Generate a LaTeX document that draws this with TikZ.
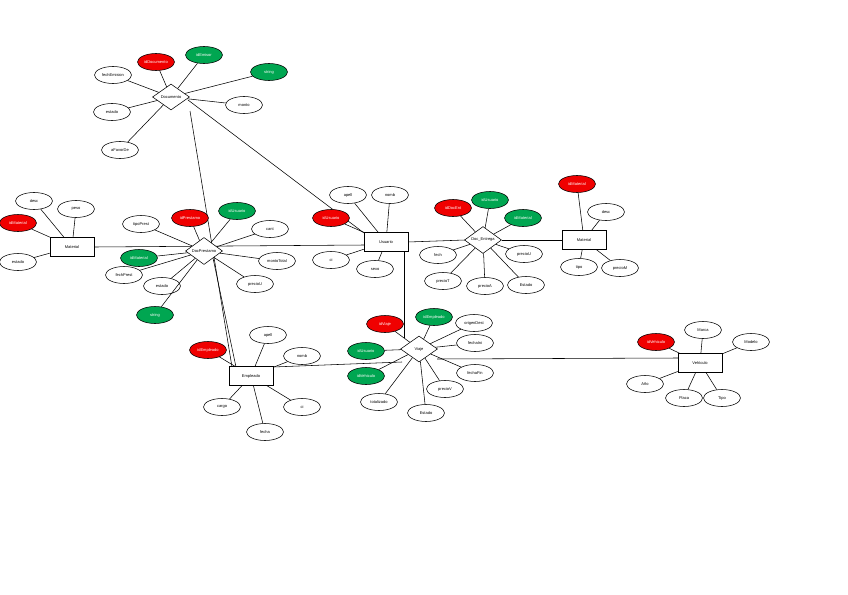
\documentclass[tikz,border=0pt]{standalone}
\usepackage{fontspec}
\setmainfont{Liberation Sans}
\usetikzlibrary{shapes.geometric}
\definecolor{keyred}{RGB}{240,0,0}
\definecolor{fkgreen}{RGB}{0,166,81}
\begin{document}
\begin{tikzpicture}[x=1pt,y=-1pt,
  every node/.style={font=\fontsize{4}{5}\selectfont, inner sep=0pt},
  attr/.style={ellipse, draw, fill=white, minimum width=37pt, minimum height=17pt, line width=0.55pt},
  pk/.style={attr, fill=keyred, text=white},
  fk/.style={attr, fill=fkgreen, text=white},
  entity/.style={rectangle, draw, fill=white, minimum width=44pt, minimum height=19pt, line width=0.55pt},
  rel/.style={diamond, draw, fill=white, minimum width=37pt, minimum height=26pt, line width=0.55pt},
  conn/.style={draw, line width=0.55pt}]
\useasboundingbox (0,0) rectangle (848,594);
\fill[white] (0,0) rectangle (848,594);

% relationship lines first (drawn beneath nodes)
\coordinate (docA) at (188,100);
\coordinate (docB) at (190,111);
\coordinate (usrA) at (364,233);
\coordinate (empA) at (232,367);
\coordinate (empB) at (236,367);
\coordinate (dpB) at (213,258);
\coordinate (matE) at (95,247);
\coordinate (usrW) at (364,245);
\coordinate (usrS) at (404,252);
\coordinate (viaN) at (404,338);
\coordinate (empE) at (273,367);
\coordinate (viaW) at (402,362);
\coordinate (viaE) at (437,359);
\coordinate (vehW) at (678,358);
\coordinate (usrE) at (408,242);
\coordinate (deW) at (465,240);
\coordinate (deE) at (502,240);
\coordinate (m2W) at (562,240);
\draw[conn] (docA) -- (usrA);
\draw[conn] (docB) -- (empA);
\draw[conn] (dpB) -- (empB);
\draw[conn] (matE) -- (usrW);
\draw[conn] (usrS) -- (viaN);
\draw[conn] (empE) -- (viaW);
\draw[conn] (viaE) -- (vehW);
\draw[conn] (usrE) -- (deW);
\draw[conn] (deE) -- (m2W);

% entities and relationships
\node[rel] (doc) at (171,97) {Documento};
\node[rel] (dp) at (204,251) {DocPrestamo};
\node[entity] (mat) at (72,247) {Material};
\node[entity] (usr) at (386,242) {Usuario};
\node[rel] (de) at (483,240) {Doc\_Entrega};
\node[entity] (m2) at (584,240) {Material};
\node[entity] (emp) at (251,376) {Empleado};
\node[rel] (via) at (419,349) {Viaje};
\node[entity] (veh) at (700,363) {Vehículo};

% Documento attributes
\node[pk] (d1) at (156,62) {idDocumento};
\node[fk] (d2) at (204,55) {idEmisor};
\node[fk] (d3) at (269,72) {string};
\node[attr] (d4) at (113,75) {fechEmision};
\node[attr] (d5) at (112,112) {estado};
\node[attr] (d6) at (244,105) {monto};
\node[attr] (d7) at (120,150) {aFavorDe};
\foreach \a in {d1,d2,d3,d4,d5,d6,d7} \draw[conn] (\a) -- (doc);

% Material attributes
\node[attr] (m1) at (34,201) {desc};
\node[attr] (mm2) at (76,209) {peso};
\node[pk] (m3) at (18,223) {idMaterial};
\node[attr] (m4) at (18,262) {estado};
\foreach \a in {m1,mm2,m3,m4} \draw[conn] (\a) -- (mat);

% DocPrestamo attributes
\node[attr] (p1) at (141,224) {tipoPrest};
\node[pk] (p2) at (190,218) {idPrestamo};
\node[fk] (p3) at (237,211) {idUsuario};
\node[attr] (p4) at (270,229) {cant};
\node[fk] (p5) at (139,258) {idMaterial};
\node[attr] (p6) at (124,275) {fechPrest};
\node[attr] (p7) at (162,286) {estado};
\node[fk] (p8) at (155,315) {string};
\node[attr] (p9) at (277,261) {montoTotal};
\node[attr] (p10) at (255,284) {precioU};
\foreach \a in {p1,p2,p3,p4,p5,p6,p7,p8,p9,p10} \draw[conn] (\a) -- (dp);

% Usuario attributes
\node[attr] (u1) at (348,195) {apell};
\node[attr] (u2) at (390,195) {nomb};
\node[pk] (u3) at (331,218) {idUsuario};
\node[attr] (u4) at (331,260) {ci};
\node[attr] (u5) at (375,269) {sexo};
\foreach \a in {u1,u2,u3,u4,u5} \draw[conn] (\a) -- (usr);

% Doc_Entrega attributes
\node[pk] (e1) at (453,208) {idDocEnt};
\node[fk] (e2) at (490,200) {idUsuario};
\node[fk] (e3) at (523,218) {idMaterial};
\node[attr] (e4) at (438,255) {fech};
\node[attr] (e5) at (524,254) {precioU};
\node[attr] (e6) at (443,281) {precioT};
\node[attr] (e7) at (485,286) {precioA};
\node[attr] (e8) at (526,285) {Estado};
\foreach \a in {e1,e2,e3,e4,e5,e6,e7,e8} \draw[conn] (\a) -- (de);

% Material (right) attributes
\node[pk] (r1) at (577,184) {idMaterial};
\node[attr] (r2) at (606,212) {desc};
\node[attr] (r3) at (579,267) {tipo};
\node[attr] (r4) at (620,268) {precioM};
\foreach \a in {r1,r2,r3,r4} \draw[conn] (\a) -- (m2);

% Empleado attributes
\node[attr] (w1) at (268,335) {apell};
\node[attr] (w2) at (302,356) {nomb};
\node[pk] (w3) at (208,350) {idEmpleado};
\node[attr] (w4) at (222,407) {cargo};
\node[attr] (w5) at (302,407) {ci};
\node[attr] (w6) at (265,432) {fecha};
\foreach \a in {w1,w2,w3,w4,w5,w6} \draw[conn] (\a) -- (emp);

% Viaje attributes
\node[pk] (v1) at (385,324) {idViaje};
\node[fk] (v2) at (434,317) {idEmpleado};
\node[attr] (v3) at (474,323) {origenDest};
\node[attr] (v4) at (475,343) {fechaIni};
\node[fk] (v5) at (366,351) {idUsuario};
\node[attr] (v6) at (475,373) {fechaFin};
\node[fk] (v7) at (366,376) {idVehiculo};
\node[attr] (v8) at (445,389) {precioV};
\node[attr] (v9) at (379,402) {totalizado};
\node[attr] (v10) at (426,413) {Estado};
\foreach \a in {v1,v2,v3,v4,v5,v6,v7,v8,v9,v10} \draw[conn] (\a) -- (via);

% Vehiculo attributes
\node[pk] (h1) at (656,342) {idVehiculo};
\node[attr] (h2) at (703,330) {Marca};
\node[attr] (h3) at (751,342) {Modelo};
\node[attr] (h4) at (645,384) {Año};
\node[attr] (h5) at (684,398) {Placa};
\node[attr] (h6) at (722,398) {Tipo};
\foreach \a in {h1,h2,h3,h4,h5,h6} \draw[conn] (\a) -- (veh);
\end{tikzpicture}
\end{document}
